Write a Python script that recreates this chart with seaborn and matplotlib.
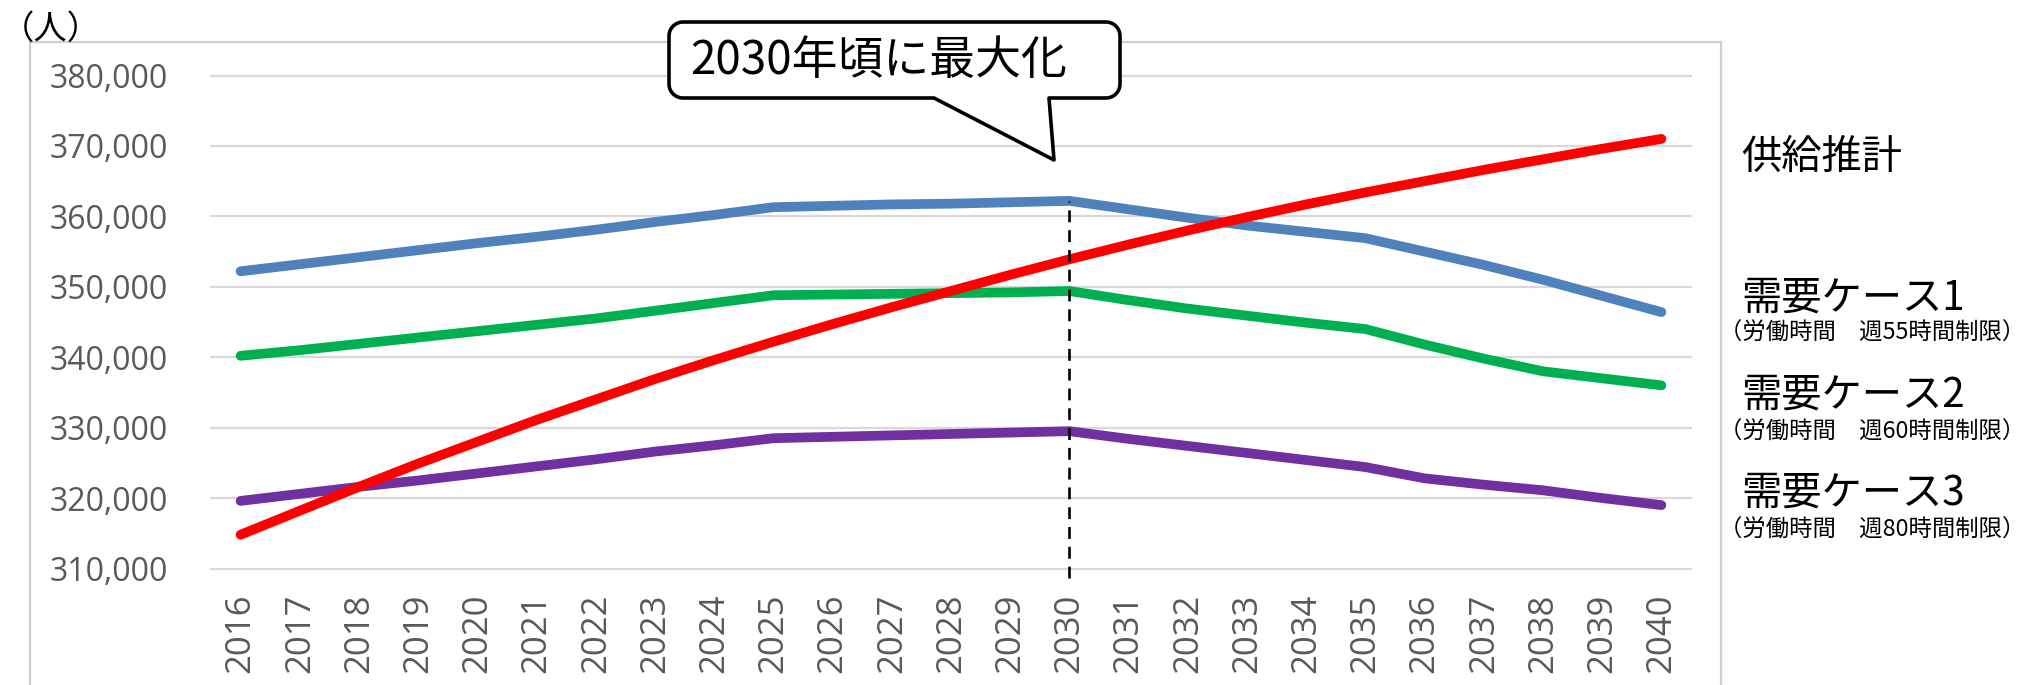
import numpy as np
import pandas as pd
import matplotlib
matplotlib.use("Agg")
import matplotlib.pyplot as plt
import seaborn as sns
from matplotlib.patches import Rectangle, PathPatch
from matplotlib.path import Path
from matplotlib.ticker import FuncFormatter

# ---- data -------------------------------------------------------------
years = list(range(2016, 2041))

supply = [314800, 318200, 321600, 324900, 328000, 331100, 334000, 336900,
          339600, 342200, 344700, 347100, 349400, 351700, 353900, 356000,
          358000, 359900, 361700, 363400, 365000, 366600, 368100, 369600,
          371000]
demand_case1 = [352200, 353200, 354200, 355200, 356200, 357100, 358100,
                359200, 360200, 361300, 361500, 361700, 361800, 362000,
                362200, 361000, 359800, 358700, 357800, 356900, 355000,
                353100, 351000, 348700, 346400]
demand_case2 = [340200, 341000, 341900, 342800, 343700, 344600, 345500,
                346600, 347700, 348800, 348900, 349000, 349100, 349200,
                349400, 348100, 346900, 345900, 344900, 344000, 341800,
                339800, 338000, 337000, 336000]
demand_case3 = [319600, 320600, 321600, 322500, 323500, 324500, 325500,
                326600, 327500, 328500, 328700, 328900, 329100, 329300,
                329500, 328400, 327400, 326400, 325400, 324400, 322800,
                321900, 321100, 320000, 319000]

y_ticks = [310000, 320000, 330000, 340000, 350000, 360000, 370000, 380000]

series_names = ["需要ケース1", "需要ケース2", "需要ケース3", "供給推計"]
series_values = [demand_case1, demand_case2, demand_case3, supply]
palette = {"供給推計": "#FF0000", "需要ケース1": "#4F81BD",
           "需要ケース2": "#00B050", "需要ケース3": "#7030A0"}

label_titles = ["供給推計", "需要ケース1", "需要ケース2", "需要ケース3"]
label_notes = [None, "（労働時間　週55時間制限）", "（労働時間　週60時間制限）",
               "（労働時間　週80時間制限）"]
unit_label = "（人）"
callout_text = "2030年頃に最大化"
peak_year = 2030

df = pd.DataFrame({
    "year": np.tile(years, len(series_names)),
    "value": np.concatenate(series_values),
    "series": np.repeat(series_names, len(years)),
})

# ---- figure -----------------------------------------------------------
sns.set_theme(style="white")
plt.rcParams["font.family"] = ["Noto Sans CJK JP", "DejaVu Sans"]

W, H = 2040, 685
fig = plt.figure(figsize=(W / 100, H / 100), dpi=100)
fig.patch.set_facecolor("white")


def fx(px):
    return px / W


def fy(py):
    return 1 - py / H


ax_left, ax_right, ax_top, ax_bottom = 211, 1691, 75.5, 568.5
ax = fig.add_axes([fx(ax_left), fy(ax_bottom),
                   (ax_right - ax_left) / W, (ax_bottom - ax_top) / H])
ax.set_facecolor("none")

sns.lineplot(data=df, x="year", y="value", hue="series",
             hue_order=series_names, palette=palette, linewidth=7,
             solid_capstyle="round", legend=False, ax=ax, zorder=3)

tick_color = "#595959"
ylo, yhi = y_ticks[0], y_ticks[-1]
ax.set_xlim(years[0] - 0.5, years[-1] + 0.5)
ax.set_ylim(ylo, yhi)
ax.set_xticks(years)
ax.set_xticklabels([str(y) for y in years], rotation=90,
                   fontfamily="Open Sans", fontsize=25, color=tick_color)
ax.set_yticks(y_ticks)
ax.yaxis.set_major_formatter(FuncFormatter(lambda v, _: f"{v:,.0f}"))
for t in ax.get_yticklabels():
    t.set_fontfamily("Open Sans")
    t.set_fontsize(23)
    t.set_color(tick_color)
ax.tick_params(axis="x", length=0, pad=18)
ax.tick_params(axis="y", length=0, pad=31)
ax.set_xlabel("")
ax.set_ylabel("")
for s in ax.spines.values():
    s.set_visible(False)
ax.yaxis.grid(True, color="#d9d9d9", linewidth=1.6)
ax.xaxis.grid(False)
for gl in ax.get_ygridlines():
    gl.set_clip_on(False)

# vertical dashed marker at the peak year
peak_val = demand_case1[years.index(peak_year)]
ax.axvline(peak_year, ymin=-0.02, ymax=(peak_val - ylo) / (yhi - ylo),
           color="black", linewidth=1.9, linestyle=(0, (4.5, 3)),
           clip_on=False, zorder=5)

# chart-area frame
frame = Rectangle((fx(30), -0.1), fx(1721) - fx(30), fy(41.7) + 0.1,
                  transform=fig.transFigure, fill=False,
                  edgecolor="#cfcfcf", linewidth=1.6, zorder=0)
fig.add_artist(frame)

# callout balloon
L, R, T, B, r = 669, 1120, 22, 98, 14
tx1, tx2, tip = 934, 1049, (1054, 160)


def arc(cx, cy, a0, a1, n=12):
    a = np.linspace(np.radians(a0), np.radians(a1), n)
    return [(cx + r * np.cos(a_), cy - r * np.sin(a_)) for a_ in a]


pts = [(L + r, T), (R - r, T)]
pts += arc(R - r, T + r, 90, 0)
pts += [(R, B - r)]
pts += arc(R - r, B - r, 0, -90)
pts += [(tx2, B), tip, (tx1, B), (L + r, B)]
pts += arc(L + r, B - r, -90, -180)
pts += [(L, T + r)]
pts += arc(L + r, T + r, 180, 90)
verts = [(fx(x), fy(y)) for x, y in pts] + [(fx(L + r), fy(T))]
codes = [Path.MOVETO] + [Path.LINETO] * (len(verts) - 2) + [Path.CLOSEPOLY]
balloon = PathPatch(Path(verts, codes), transform=fig.transFigure,
                    facecolor="white", edgecolor="black", linewidth=2.6,
                    joinstyle="round", zorder=6)
fig.add_artist(balloon)
fig.text(fx(879), fy(61), callout_text, ha="center", va="center",
         fontsize=33, color="black", zorder=7)

# unit label
fig.text(fx(51), fy(29), unit_label, ha="center", va="center", fontsize=24,
         color="black")

# series labels on the right
title_y = [157, 298, 395, 493]
note_y = [None, 333, 432, 530]
for title, note, ty, ny in zip(label_titles, label_notes, title_y, note_y):
    fig.text(fx(1741), fy(ty), title, ha="left", va="center", fontsize=29,
             color="black")
    if note:
        fig.text(fx(1719), fy(ny), note, ha="left", va="center",
                 fontsize=16.8, color="black")

fig.savefig("out.png", dpi=100, facecolor="white")
